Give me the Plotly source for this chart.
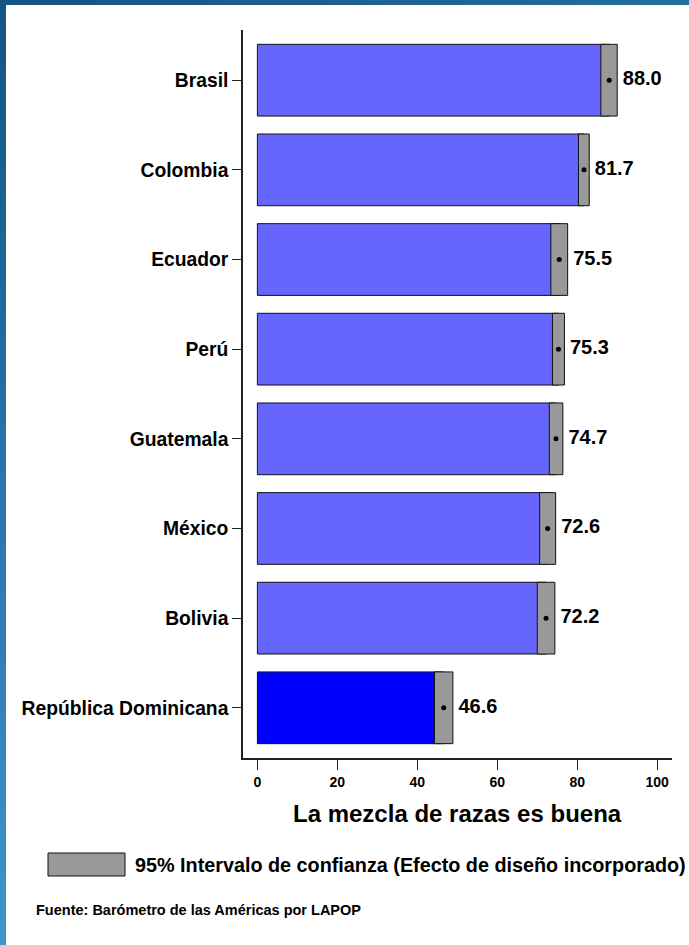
import plotly.graph_objects as go

countries = ["Brasil", "Colombia", "Ecuador", "Perú", "Guatemala", "México", "Bolivia", "República Dominicana"]
means = [88.0, 81.7, 75.5, 75.3, 74.7, 72.6, 72.2, 46.6]
ci_low = [85.9, 80.3, 73.4, 73.8, 73.0, 70.6, 70.0, 44.3]
ci_high = [90.0, 83.0, 77.6, 76.8, 76.4, 74.6, 74.4, 48.9]
bar_colors = ["#6666FF"] * 7 + ["#0000FF"]
x_ticks = [0, 20, 40, 60, 80, 100]

W_FIG, H_FIG = 689, 945
L, R, T, B = 243, 672, 30, 758
PW, PH = R - L, B - T


def px(x):
    return (x - L) / PW


def py(y):
    return (B - y) / PH


FONT = "Liberation Sans, Arial, Helvetica, sans-serif"

fig = go.Figure()

fig.add_trace(go.Bar(
    y=countries, x=means, orientation="h", width=0.8,
    marker=dict(color=bar_colors, line=dict(color="#111111", width=1)),
    showlegend=False, hoverinfo="skip",
))
fig.add_trace(go.Bar(
    y=countries, x=[h - l for l, h in zip(ci_low, ci_high)], base=ci_low,
    orientation="h", width=0.8,
    marker=dict(color="#999999", line=dict(color="#111111", width=1)),
    showlegend=False, hoverinfo="skip",
))
fig.add_trace(go.Scatter(
    y=countries, x=means, mode="markers",
    marker=dict(color="black", size=5),
    showlegend=False, hoverinfo="skip",
))
fig.add_trace(go.Scatter(
    y=countries, x=ci_high, mode="text",
    text=[" " + f"{m:.1f}" for m in means], textposition="middle right",
    textfont=dict(family=FONT, size=20, color="black", weight=700),
    showlegend=False, hoverinfo="skip",
))

shapes = []


def lerp(c1, c2, t):
    return "#%02x%02x%02x" % tuple(int(round(a + (b - a) * t)) for a, b in zip(c1, c2))


# gradient frame: left band
n = 40
top_c = (0x14, 0x55, 0x87)
bot_c = (0x3e, 0x93, 0xca)
for i in range(n):
    y0 = i * H_FIG / n
    y1 = (i + 1) * H_FIG / n + 1
    shapes.append(dict(type="rect", xref="paper", yref="paper",
                       x0=px(0), x1=px(6), y0=py(y0), y1=py(min(y1, H_FIG)),
                       fillcolor=lerp(top_c, bot_c, i / (n - 1)), line=dict(width=0), layer="above"))
# top band
left_c = (0x14, 0x55, 0x87)
right_c = (0x26, 0x6c, 0x9c)
m = 30
for i in range(m):
    x0 = i * W_FIG / m
    x1 = (i + 1) * W_FIG / m + 1
    shapes.append(dict(type="rect", xref="paper", yref="paper",
                       x0=px(x0), x1=px(min(x1, W_FIG)), y0=py(0), y1=py(5),
                       fillcolor=lerp(left_c, right_c, i / (m - 1)), line=dict(width=0), layer="above"))
# legend box
shapes.append(dict(type="rect", xref="paper", yref="paper",
                   x0=px(48), x1=px(125), y0=py(876), y1=py(853),
                   fillcolor="#999999", line=dict(color="#111111", width=1)))

annotations = [
    dict(text="La mezcla de razas es buena", xref="paper", yref="paper",
         x=0.5, y=py(813), xanchor="center", yanchor="middle", showarrow=False,
         font=dict(family=FONT, size=24, color="black", weight=700)),
    dict(text="95% Intervalo de confianza (Efecto de diseño incorporado)", xref="paper", yref="paper",
         x=px(133), y=py(865), xanchor="left", yanchor="middle", showarrow=False,
         font=dict(family=FONT, size=19.8, color="black", weight=700)),
    dict(text="Fuente: Barómetro de las Américas por LAPOP", xref="paper", yref="paper",
         x=px(34), y=py(910), xanchor="left", yanchor="middle", showarrow=False,
         font=dict(family=FONT, size=14.5, color="black", weight=700)),
]

fig.update_layout(
    width=W_FIG, height=H_FIG,
    margin=dict(l=L, r=W_FIG - R, t=T, b=H_FIG - B, pad=0),
    paper_bgcolor="white", plot_bgcolor="white",
    barmode="overlay", bargap=0.2,
    shapes=shapes, annotations=annotations,
    xaxis=dict(range=[-3.6, 103.7], tickvals=x_ticks, ticks="outside", ticklen=10,
               tickcolor="#222222", showline=True, linecolor="#222222", linewidth=1.5,
               showgrid=False, zeroline=False,
               tickfont=dict(family=FONT, size=14, color="black", weight=700)),
    yaxis=dict(type="category", categoryorder="array", categoryarray=countries,
               range=[7.56, -0.56], ticks="outside", ticklen=9,
               tickcolor="#222222", showline=True, linecolor="#222222", linewidth=1.5,
               showgrid=False, zeroline=False,
               tickfont=dict(family=FONT, size=19.3, color="black", weight=700)),
)

fig.write_html("out.html", config={"displayModeBar": False},
               post_script="document.body.style.margin='0px';")
